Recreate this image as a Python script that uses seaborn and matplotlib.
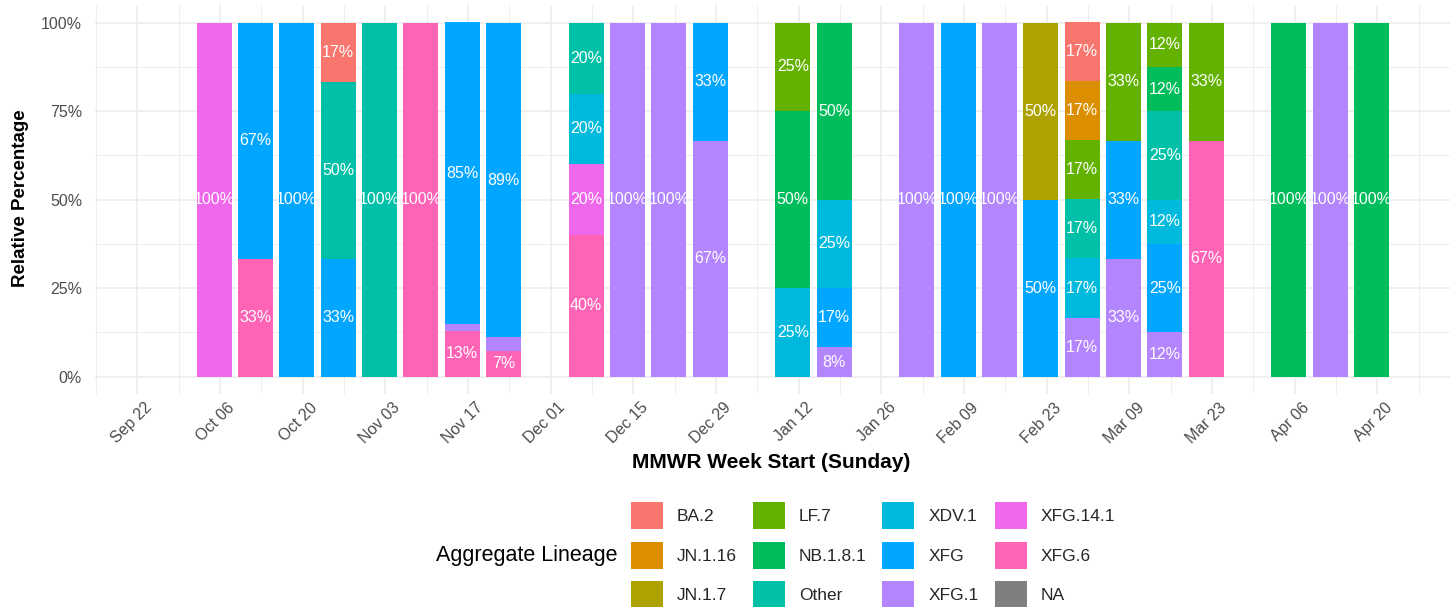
import matplotlib
matplotlib.use("Agg")
import matplotlib.pyplot as plt
import matplotlib.patches as mpatches
import matplotlib.transforms as mtransforms
from matplotlib.ticker import FixedLocator
import seaborn as sns
import pandas as pd
import numpy as np

# ---------------- data ----------------
lineages = ["BA.2", "JN.1.16", "JN.1.7", "LF.7", "NB.1.8.1", "Other",
            "XDV.1", "XFG", "XFG.1", "XFG.14.1", "XFG.6", "NA"]
lineage_colors = ["#F8766D", "#DB8E00", "#AEA200", "#64B200", "#00BD5C", "#00C1A7",
                  "#00BADE", "#00A6FF", "#B385FF", "#EF67EB", "#FF63B6", "#7F7F7F"]

week = ["2025-10-05",
        "2025-10-12", "2025-10-12",
        "2025-10-19",
        "2025-10-26", "2025-10-26", "2025-10-26",
        "2025-11-02",
        "2025-11-09",
        "2025-11-16", "2025-11-16", "2025-11-16",
        "2025-11-23", "2025-11-23", "2025-11-23",
        "2025-12-07", "2025-12-07", "2025-12-07", "2025-12-07",
        "2025-12-14",
        "2025-12-21",
        "2025-12-28", "2025-12-28",
        "2026-01-11", "2026-01-11", "2026-01-11",
        "2026-01-18", "2026-01-18", "2026-01-18", "2026-01-18",
        "2026-02-01",
        "2026-02-08",
        "2026-02-15",
        "2026-02-22", "2026-02-22",
        "2026-03-01", "2026-03-01", "2026-03-01", "2026-03-01", "2026-03-01", "2026-03-01",
        "2026-03-08", "2026-03-08", "2026-03-08",
        "2026-03-15", "2026-03-15", "2026-03-15", "2026-03-15", "2026-03-15", "2026-03-15",
        "2026-03-22", "2026-03-22",
        "2026-04-05",
        "2026-04-12",
        "2026-04-19"]
lineage = ["XFG.14.1",
           "XFG", "XFG.6",
           "XFG",
           "BA.2", "Other", "XFG",
           "Other",
           "XFG.6",
           "XFG", "XFG.1", "XFG.6",
           "XFG", "XFG.1", "XFG.6",
           "Other", "XDV.1", "XFG.14.1", "XFG.6",
           "XFG.1",
           "XFG.1",
           "XFG", "XFG.1",
           "LF.7", "NB.1.8.1", "XDV.1",
           "NB.1.8.1", "XDV.1", "XFG", "XFG.1",
           "XFG.1",
           "XFG",
           "XFG.1",
           "JN.1.7", "XFG",
           "BA.2", "JN.1.16", "LF.7", "Other", "XDV.1", "XFG.1",
           "LF.7", "XFG", "XFG.1",
           "LF.7", "NB.1.8.1", "Other", "XDV.1", "XFG", "XFG.1",
           "LF.7", "XFG.6",
           "NB.1.8.1",
           "XFG.1",
           "NB.1.8.1"]
pct = [100,
       66.7, 33.3,
       100,
       16.7, 50.0, 33.3,
       100,
       100,
       85.2, 1.9, 13.0,
       88.9, 3.7, 7.4,
       20, 20, 20, 40,
       100,
       100,
       33.3, 66.7,
       25, 50, 25,
       50, 25, 16.7, 8.3,
       100,
       100,
       100,
       50, 50,
       16.7, 16.7, 16.7, 16.7, 16.7, 16.7,
       33.3, 33.3, 33.3,
       12.5, 12.5, 25, 12.5, 25, 12.5,
       33.3, 66.7,
       100,
       100,
       100]

tick_dates = ["2025-09-22", "2025-10-06", "2025-10-20", "2025-11-03", "2025-11-17",
              "2025-12-01", "2025-12-15", "2025-12-29", "2026-01-12", "2026-01-26",
              "2026-02-09", "2026-02-23", "2026-03-09", "2026-03-23", "2026-04-06",
              "2026-04-20"]
tick_labels = ["Sep 22", "Oct 06", "Oct 20", "Nov 03", "Nov 17", "Dec 01", "Dec 15",
               "Dec 29", "Jan 12", "Jan 26", "Feb 09", "Feb 23", "Mar 09", "Mar 23",
               "Apr 06", "Apr 20"]

# ---------------- prep ----------------
origin = pd.Timestamp("2025-09-21")  # a Sunday; x unit = weeks since origin
df = pd.DataFrame({"week": pd.to_datetime(week), "lineage": lineage, "pct": pct})
df["wk"] = ((df["week"] - origin).dt.days / 7).astype(int)
palette = dict(zip(lineages, lineage_colors))
order_idx = {l: i for i, l in enumerate(lineages)}

tick_pos = [(pd.Timestamp(d) - origin).days / 7 for d in tick_dates]
minor_pos = [p - 1 for p in tick_pos] + [tick_pos[-1] + 1]

# ---------------- plot ----------------
sns.set_theme(style="white")
plt.rcParams["font.family"] = ["Liberation Sans", "DejaVu Sans"]

W, H = 1455, 607
fig = plt.figure(figsize=(W / 100, H / 100), dpi=100)
L, R, T, B = 94.5, 1450, 5, 394.4
ax = fig.add_axes([L / W, 1 - B / H, (R - L) / W, (B - T) / H])

sns.histplot(data=df, x="wk", weights="pct", hue="lineage",
             hue_order=[l for l in lineages if l != "NA"], palette=palette,
             multiple="stack", discrete=True, shrink=0.85, linewidth=0,
             alpha=1, legend=False, ax=ax)

# labels at segment middles
for wk, g in df.groupby("wk"):
    g = g.assign(o=g["lineage"].map(order_idx)).sort_values("o", ascending=False)
    base = 0.0
    for _, r in g.iterrows():
        if r["pct"] >= 5:
            ax.text(wk, base + r["pct"] / 2, f"{round(r['pct'])}%", color="white",
                    ha="center", va="center", fontsize=11.5)
        base += r["pct"]

ax.set_xlim((-7.25 + 1) / 7, (222.3 + 1) / 7)
ax.set_ylim(-5, 105)
ax.xaxis.set_major_locator(FixedLocator(tick_pos))
ax.xaxis.set_minor_locator(FixedLocator(minor_pos))
ax.set_xticklabels(tick_labels)
ax.yaxis.set_major_locator(FixedLocator([0, 25, 50, 75, 100]))
ax.yaxis.set_minor_locator(FixedLocator([12.5, 37.5, 62.5, 87.5]))
ax.set_yticklabels(["0%", "25%", "50%", "75%", "100%"])
ax.grid(which="major", color="#EBEBEB", lw=1.1)
ax.grid(which="minor", color="#EBEBEB", lw=0.6)
ax.set_axisbelow(True)
for s in ax.spines.values():
    s.set_visible(False)
ax.tick_params(which="both", length=0)
ax.tick_params(axis="y", labelsize=11.5, labelcolor="#4D4D4D", pad=9)
ax.tick_params(axis="x", labelsize=11.5, labelcolor="#4D4D4D", pad=4)
offset = mtransforms.ScaledTranslation(7 / 100, 0, fig.dpi_scale_trans)
for lab in ax.get_xticklabels():
    lab.set_rotation(45)
    lab.set_ha("right")
    lab.set_va("top")
    lab.set_rotation_mode("anchor")
    lab.set_transform(lab.get_transform() + offset)

ax.set_xlabel("")
ax.set_ylabel("")
fig.text(771.5 / W, 1 - 462 / H, "MMWR Week Start (Sunday)", fontsize=15,
         fontweight="bold", ha="center", va="center", color="black")
fig.text(20.5 / W, 1 - 198 / H, "Relative Percentage", fontsize=13.5,
         fontweight="bold", ha="center", va="center", rotation=90, color="black")

# legend
fs = 12.5
fs_px = fs * 100 / 72
key_w, key_h = 32, 26.7
hh = (key_h / fs_px - 0.245) / 0.65   # matplotlib trims 0.35*(hh-0.7) as descent
handles = [mpatches.Patch(facecolor=c, edgecolor="none", label=l)
           for l, c in zip(lineages, lineage_colors)]
fig.legend(handles=handles, ncol=4, loc="center left",
           bbox_to_anchor=(630.7 / W, 1 - 555.3 / H), frameon=False,
           fontsize=fs, borderpad=0, borderaxespad=0,
           handlelength=key_w / fs_px, handleheight=hh,
           handletextpad=14 / fs_px, columnspacing=16 / fs_px,
           labelspacing=(39.5 - key_h) / fs_px)
fig.text(617 / W, 1 - 555.3 / H, "Aggregate Lineage", fontsize=15.5,
         ha="right", va="center", color="black")

fig.savefig("out.png", dpi=100, facecolor="white")
